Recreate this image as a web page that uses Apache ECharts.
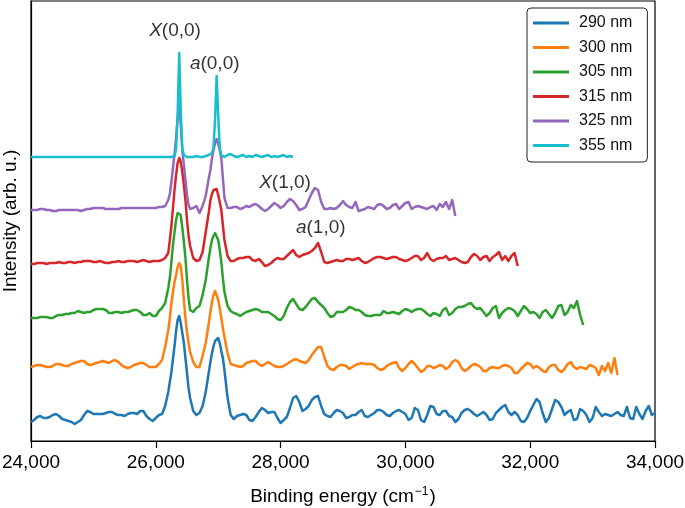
<!DOCTYPE html>
<html>
<head>
<meta charset="utf-8">
<script src="https://cdn.jsdelivr.net/npm/echarts@6/dist/echarts.min.js"></script>
<style>html,body{margin:0;padding:0;background:#fff}#c{width:685px;height:508px}</style>
</head>
<body>
<div id="c"></div>
<script>
// Binding energy grid (cm^-1)
const energy = [
24000,24050,24100,24150,24200,24250,24300,24350,24400,24450,
24500,24550,24600,24650,24700,24750,24800,24850,24900,24950,
25000,25050,25100,25150,25200,25250,25300,25350,25400,25450,
25500,25550,25600,25650,25700,25750,25800,25850,25900,25950,
26000,26050,26100,26150,26200,
26225,26250,26275,26300,26325,26350,26375,26400,26425,26450,26475,26500,26525,26550,
26600,26650,26700,26750,26800,26850,
26875,26900,26925,26950,26975,27000,27025,27050,27075,27100,
27150,27200,27250,27300,27350,27400,27450,27500,27550,27600,
27650,27700,27750,27800,27850,27900,27950,28000,28050,28100,
28150,28200,28250,28300,28350,28400,28450,28500,28550,28600,
28650,28700,28750,28800,28850,28900,28950,29000,29050,29100,
29150,29200,29250,29300,29350,29400,29450,29500,29550,29600,
29650,29700,29750,29800,29850,29900,29950,30000,30050,30100,
30150,30200,30250,30300,30350,30400,30450,30500,30550,30600,
30650,30700,30750,30800,30850,30900,30950,31000,31050,31100,
31150,31200,31250,31300,31350,31400,31450,31500,31550,31600,
31650,31700,31750,31800,31850,31900,31950,32000,32050,32100,
32150,32200,32250,32300,32350,32400,32450,32500,32550,32600,
32650,32700,32750,32800,32850,32900,32950,33000,33050,33100,
33150,33200,33250,33300,33350,33400,33450,33500,33550,33600,
33650,33700,33750,33800,33850,33900,33950,34000
];

// Intensities (arb. u., offset traces)
const i290 = [
19,21,24,25,23,23,24,26,27,25,
22,21,20,19,17,19,21,26,30,29,
27,27,27,27,28,29,29,27,26,26,
25,27,28,28,27,30,30,25,22,20,
23,26,27,35,49,
59,69,82,95,110,121,125,118,108,98,83,68,53,43,
30,26,28,35,49,69,
79,88,95,100,102,103,98,90,83,71,
43,26,22,25,26,27,26,21,20,24,
29,33,31,28,29,29,23,18,21,24,
33,43,45,39,30,32,35,41,44,45,
35,27,25,24,28,31,30,28,23,24,
26,26,29,31,25,24,26,28,31,31,
29,26,25,28,30,31,29,27,21,23,
33,31,21,19,26,35,34,27,26,30,
30,25,24,19,22,28,31,32,30,27,
25,27,29,26,21,22,28,31,34,36,
29,26,29,26,20,19,23,30,36,42,
39,28,19,23,32,41,39,34,26,29,
31,21,22,32,30,26,19,23,34,29,
25,27,26,25,27,29,26,25,34,23,
22,34,27,22,30,35,26,28
];
const i300 = [
74,75,76,76,75,74,74,75,77,77,
76,75,75,77,78,79,80,80,77,76,
77,78,79,80,79,78,80,81,79,76,
74,73,74,76,77,78,78,76,74,74,
74,77,81,94,111,
123,138,149,159,166,174,178,175,161,141,123,109,98,89,
79,74,74,85,98,118,
129,139,146,150,148,141,133,123,113,104,
88,77,76,75,74,75,78,79,80,80,
77,75,77,79,77,75,74,74,75,77,
79,81,82,80,79,78,81,86,90,94,
94,84,75,72,71,74,76,76,75,72,
74,76,77,78,77,77,77,76,73,71,
72,75,77,78,79,73,70,73,77,80,
77,73,69,71,75,75,73,74,76,75,
72,74,79,81,79,73,70,72,75,77,
76,74,70,70,73,74,73,73,75,76,
75,73,68,68,72,75,78,77,73,75,
73,70,69,74,76,76,71,69,72,77,
79,74,72,74,73,72,76,75,73,66,
75,70,78,68,83,66
];
const i305 = [
123,123,123,124,124,124,123,123,125,126,
126,127,127,128,128,130,129,128,129,129,
131,132,132,132,131,128,128,129,129,128,
129,129,130,131,131,129,126,126,128,125,
125,130,133,138,153,
163,179,196,209,221,228,230,226,213,199,183,161,143,131,
129,133,135,146,161,183,
193,201,205,208,207,201,191,179,163,149,
135,130,128,127,125,127,129,130,131,132,
131,129,129,129,127,125,122,121,125,133,
139,142,137,132,131,134,138,142,143,139,
136,133,128,124,125,129,129,129,131,134,
133,131,131,129,126,125,125,126,126,126,
130,128,128,129,128,127,130,132,131,129,
131,132,132,130,127,125,128,127,125,131,
133,126,128,132,134,134,135,137,138,134,
132,133,129,125,128,133,135,123,128,131,
133,132,130,125,130,135,132,128,129,127,
123,129,131,127,123,128,135,136,126,129,
136,133,140,126,116
];
const i315 = [
177,177,178,178,178,177,178,178,178,179,
178,178,179,179,178,179,179,180,180,180,
179,179,180,179,178,178,179,179,180,179,
179,180,180,180,179,180,181,180,179,180,
180,180,181,183,188,
201,215,233,251,266,278,283,279,269,256,241,221,205,195,
183,180,181,189,209,229,
241,247,251,253,252,246,239,231,216,201,
185,180,180,182,183,183,184,184,181,180,
182,179,175,176,178,181,183,182,182,185,
188,191,186,184,186,187,188,190,193,198,
189,179,178,179,180,181,180,180,182,182,
181,182,183,180,178,179,181,183,184,184,
183,182,183,184,184,182,181,180,181,183,
185,185,181,183,188,182,180,182,183,183,
185,181,182,183,181,179,178,179,184,187,
185,181,184,185,180,184,186,189,181,185,
180,185,188,175
];
const i325 = [
231,231,231,232,232,231,231,230,230,231,
231,231,231,231,231,231,230,231,232,232,
233,233,233,233,232,232,232,232,232,233,
233,233,233,233,233,233,233,233,233,233,
233,234,234,235,241,
247,259,273,287,303,323,338,316,291,276,261,246,236,232,
233,235,228,235,245,263,
271,283,291,298,302,297,291,283,263,243,
233,233,234,234,232,233,235,234,236,237,
235,232,230,232,235,238,236,233,235,239,
242,240,236,231,232,234,241,248,253,251,
239,232,232,233,232,233,236,240,236,234,
233,239,230,231,232,234,233,232,236,237,
235,232,233,236,237,232,235,238,239,232,
234,235,234,233,232,234,235,231,237,234,
239,232,241,225
];
const i355 = [
284,284,284,284,284,284,284,284,284,284,
284,284,284,284,284,284,284,284,284,284,
284,284,284,284,284,284,284,284,284,284,
284,284,284,284,284,284,284,284,284,284,
284,284,284,284,284,
284,284,284,285,292,326,388,331,292,286,284,284,285,284,
284,285,284,284,285,286,
286,288,293,322,365,326,293,286,285,284,
286,287,285,284,285,286,284,285,284,286,
285,284,285,286,284,285,284,285,286,284,
285,284
];

const seriesNames = ['290 nm','300 nm','305 nm','315 nm','325 nm','355 nm'];
const seriesValues = [i290, i300, i305, i315, i325, i355];
const seriesColors = ['#1f77b4','#ff7f0e','#2ca02c','#d62728','#9467bd','#17becf'];

// Peak annotations: [energy, intensity, italic part, rest]
const annotations = [
  [26308, 410, 'X', '(0,0)'],
  [26944, 377, 'a', '(0,0)'],
  [28071, 258, 'X', '(1,0)'],
  [28644, 213, 'a', '(1,0)']
];

const xTicks = {min: 24000, max: 34000, interval: 2000};
const FONT = '"Liberation Sans", Arial, Helvetica, sans-serif';

const chart = echarts.init(document.getElementById('c'), null, {renderer: 'canvas'});

const lineSeries = seriesNames.map((name, k) => ({
  type: 'line',
  name: name,
  data: seriesValues[k].map((v, i) => [energy[i], v]),
  symbol: 'none',
  showSymbol: false,
  smooth: false,
  lineStyle: {width: 2.5, color: seriesColors[k], join: 'round'},
  itemStyle: {color: seriesColors[k]},
  emphasis: {disabled: true},
  z: 2 + k
}));

const annoSeries = {
  type: 'scatter',
  name: 'labels',
  data: annotations.map(a => ({value: [a[0], a[1]], label: {formatter: '{i|' + a[2] + '}{n|' + a[3] + '}'}})),
  symbolSize: 0,
  silent: true,
  z: 20,
  label: {
    show: true,
    position: 'inside',
    color: '#000',
    rich: {
      i: {fontStyle: 'italic', fontSize: 19, fontFamily: FONT, color: '#000'},
      n: {fontSize: 19, fontFamily: FONT, color: '#000'}
    }
  }
};

chart.setOption({
  animation: false,
  backgroundColor: '#fff',
  grid: {left: 31, right: 30, top: 1, bottom: 67, show: true, borderColor: '#000', borderWidth: 1.2,
         backgroundColor: 'transparent', containLabel: false, outerBoundsMode: 'none'},
  legend: {
    data: seriesNames,
    orient: 'vertical',
    left: 527,
    top: 8,
    icon: 'rect',
    itemWidth: 36,
    itemHeight: 3,
    itemGap: 8.5,
    padding: [7, 15, 8.5, 6],
    borderColor: '#222',
    borderWidth: 1,
    borderRadius: 4,
    backgroundColor: '#fff',
    textStyle: {fontSize: 16, color: '#111', fontFamily: FONT, padding: [0, 0, 0, 5]}
  },
  xAxis: {
    type: 'value',
    min: xTicks.min,
    max: xTicks.max,
    interval: xTicks.interval,
    axisLine: {show: true, lineStyle: {color: '#000', width: 1.2}},
    axisTick: {show: true, inside: false, length: 7, lineStyle: {color: '#000', width: 1.2}},
    axisLabel: {
      fontSize: 19, color: '#000', fontFamily: FONT, margin: 12,
      showMinLabel: true, showMaxLabel: true, hideOverlap: false,
      formatter: v => v.toLocaleString('en-US')
    },
    splitLine: {show: false},
    name: '{n|Binding energy (cm}{s|−1}{n|)}',
    nameLocation: 'middle',
    nameGap: 45,
    nameTextStyle: {
      color: '#000',
      rich: {
        n: {fontSize: 19, fontFamily: FONT, color: '#000'},
        s: {fontSize: 12, fontFamily: FONT, color: '#000', padding: [0, 1, 10, 1]}
      }
    }
  },
  yAxis: {
    type: 'value',
    min: 0,
    max: 440,
    axisLine: {show: true, lineStyle: {color: '#000', width: 1.2}},
    axisTick: {show: false},
    axisLabel: {show: false},
    splitLine: {show: false},
    name: 'Intensity (arb. u.)',
    nameLocation: 'middle',
    nameGap: 11,
    nameTextStyle: {fontSize: 19, color: '#000', fontFamily: FONT}
  },
  series: lineSeries.concat([annoSeries])
});
</script>
</body>
</html>
